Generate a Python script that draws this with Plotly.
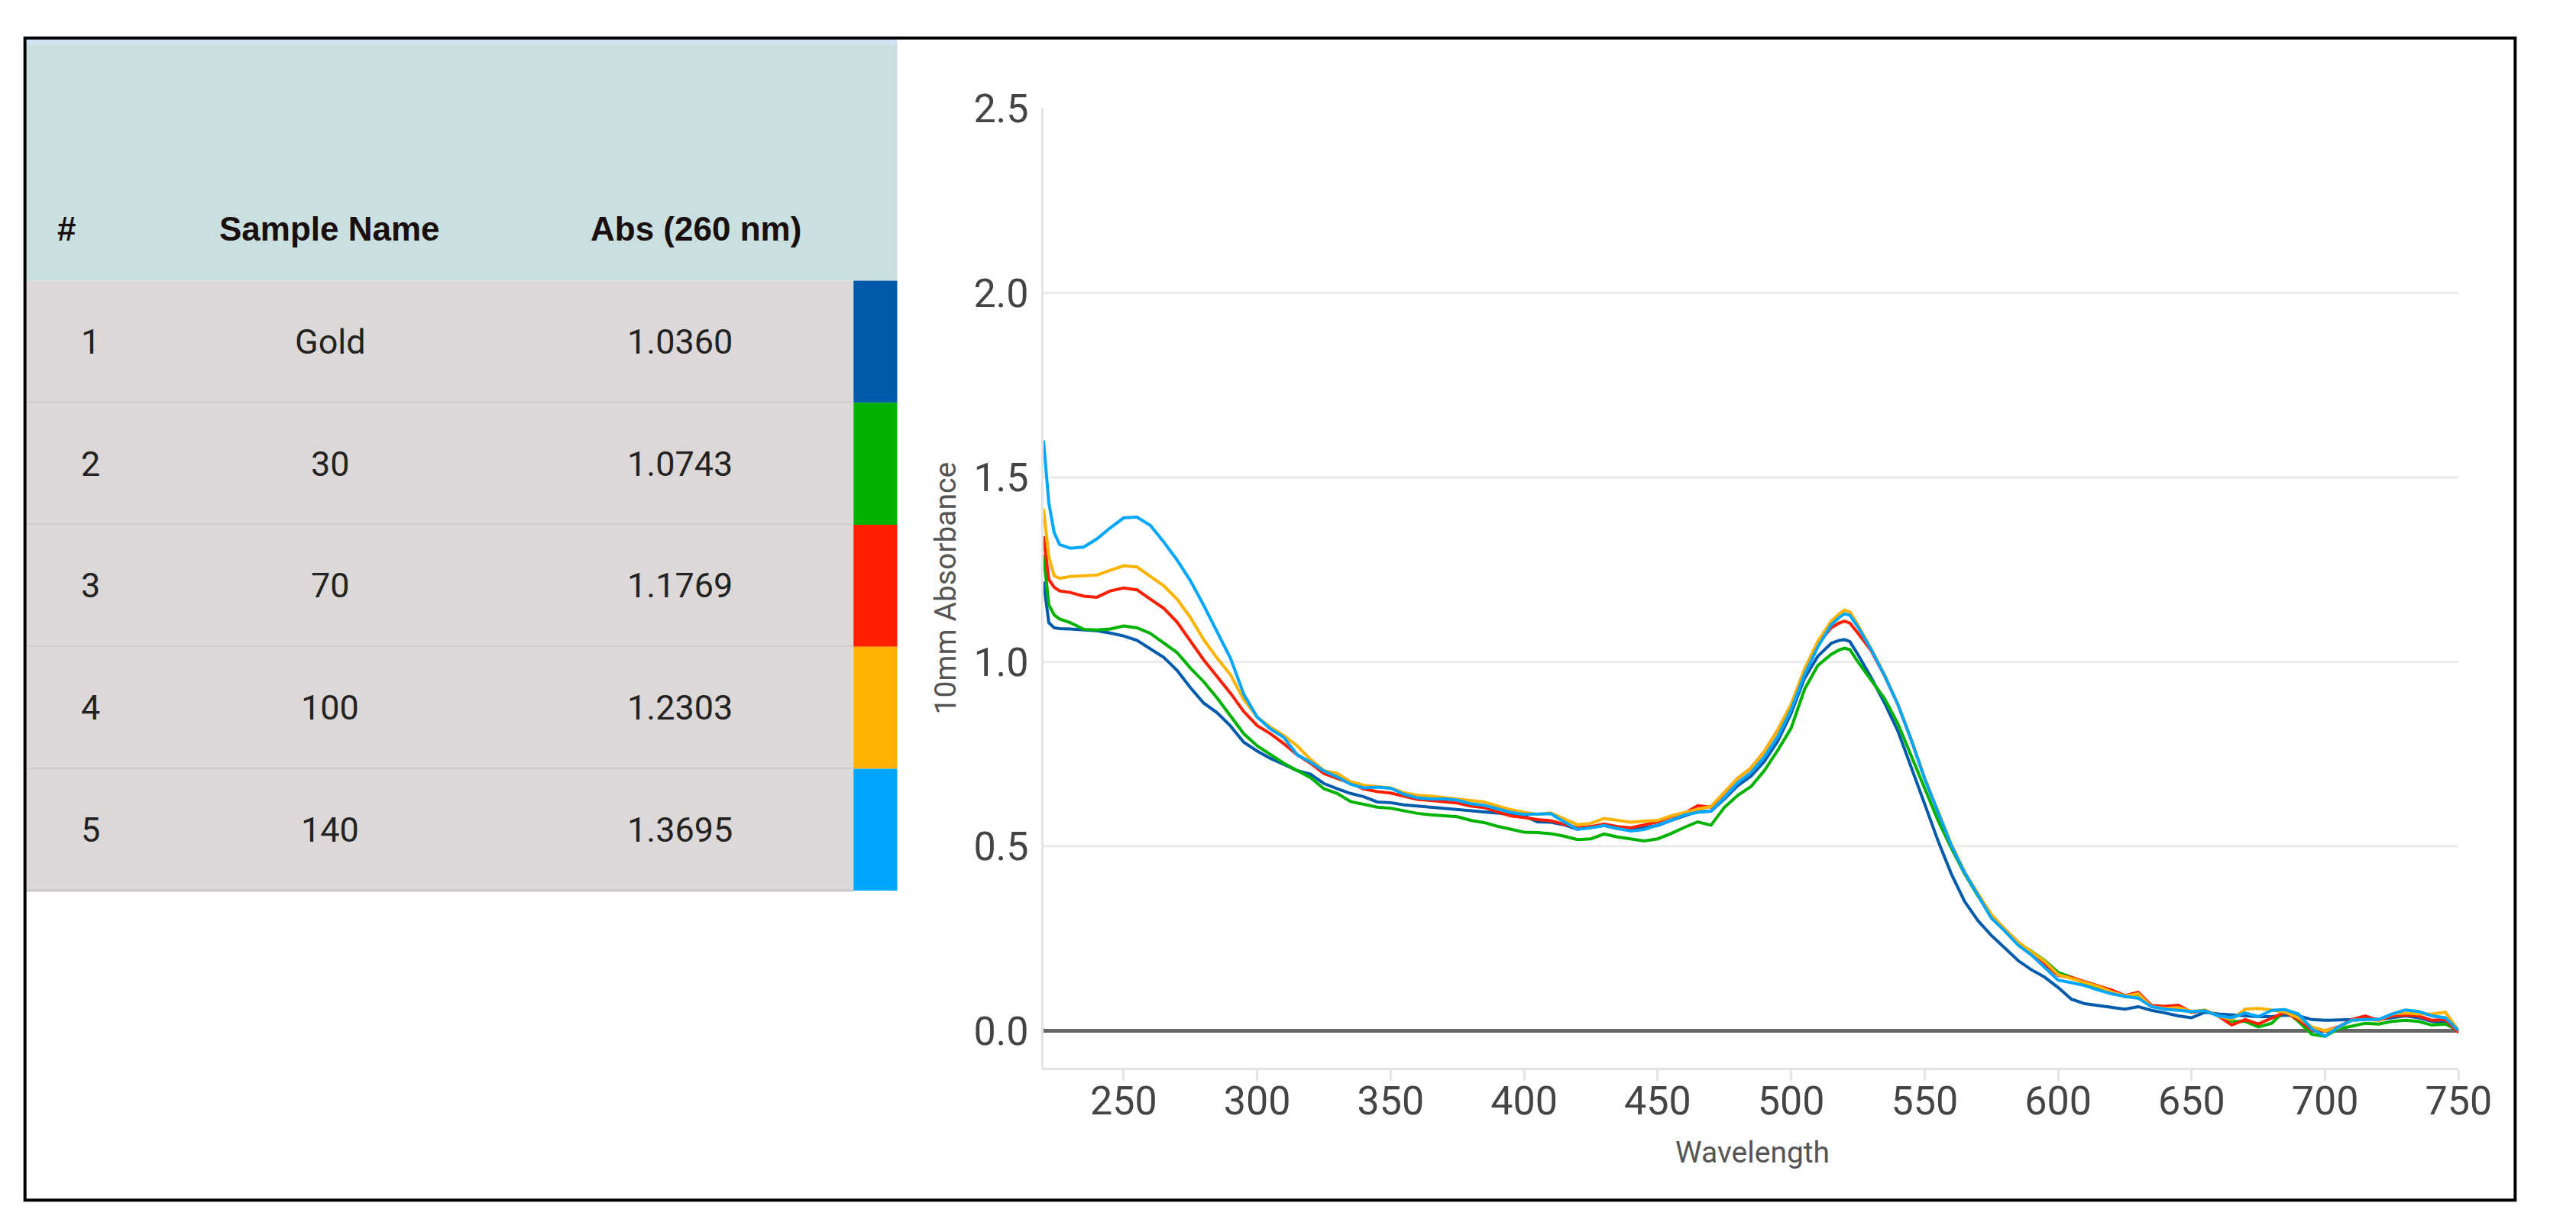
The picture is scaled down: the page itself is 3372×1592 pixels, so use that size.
import plotly.graph_objects as go

# ---------------- data ----------------
wavelength = [220, 222, 224, 226,
              230, 235, 240, 245, 250, 255, 260, 265, 270, 275,
              280, 285, 290, 295, 300, 305, 310, 315, 320, 325,
              330, 335, 340, 345, 350, 355, 360, 365, 370, 375,
              380, 385, 390, 395, 400, 405, 410, 415, 420, 425,
              430, 435, 440, 445, 450, 455, 460, 465, 470, 475,
              480, 485, 490, 495, 500, 505, 510, 515,
              518, 520, 522,
              525, 530, 535, 540, 545, 550, 555, 560, 565, 570,
              575, 580, 585, 590, 595, 600, 605, 610, 615, 620,
              625, 630, 635, 640, 645, 650, 655, 660, 665, 670,
              675, 680, 685, 690, 695, 700, 705, 710, 715, 720,
              725, 730, 735, 740, 745, 750]

abs_gold = [1.217, 1.106, 1.092, 1.090,
            1.089, 1.087, 1.084, 1.078, 1.070, 1.058, 1.036, 1.012, 0.977, 0.930,
            0.888, 0.862, 0.826, 0.782, 0.758, 0.738, 0.722, 0.705, 0.695, 0.670,
            0.656, 0.643, 0.634, 0.620, 0.618, 0.612, 0.609, 0.606, 0.602, 0.598,
            0.595, 0.592, 0.590, 0.585, 0.582, 0.566, 0.565, 0.558, 0.546, 0.553,
            0.556, 0.548, 0.545, 0.550, 0.556, 0.570, 0.582, 0.594, 0.595, 0.628,
            0.664, 0.690, 0.730, 0.785, 0.860, 0.955, 1.015, 1.050,
            1.058, 1.060, 1.055,
            1.020, 0.957, 0.888, 0.812, 0.715, 0.615, 0.515, 0.425, 0.350, 0.298,
            0.258, 0.225, 0.190, 0.165, 0.145, 0.117, 0.085, 0.073, 0.068, 0.063,
            0.058, 0.065, 0.055, 0.048, 0.040, 0.035, 0.050, 0.045, 0.042, 0.040,
            0.038, 0.038, 0.042, 0.040, 0.030, 0.028, 0.028, 0.030, 0.035, 0.030,
            0.035, 0.040, 0.035, 0.025, 0.022, 0.000]

abs_30 = [1.291, 1.154, 1.127, 1.116,
          1.106, 1.088, 1.086, 1.089, 1.097, 1.092, 1.077, 1.052, 1.025, 0.983,
          0.946, 0.902, 0.852, 0.805, 0.772, 0.748, 0.725, 0.705, 0.686, 0.656,
          0.643, 0.621, 0.613, 0.606, 0.603, 0.595, 0.589, 0.585, 0.582, 0.580,
          0.570, 0.564, 0.554, 0.545, 0.538, 0.537, 0.534, 0.527, 0.518, 0.520,
          0.533, 0.525, 0.520, 0.514, 0.520, 0.534, 0.551, 0.566, 0.557, 0.605,
          0.638, 0.662, 0.705, 0.760, 0.820, 0.925, 0.990, 1.020,
          1.032, 1.037, 1.033,
          1.000, 0.950, 0.900, 0.832, 0.745, 0.655, 0.570, 0.495, 0.425, 0.365,
          0.312, 0.275, 0.238, 0.215, 0.190, 0.158, 0.145, 0.128, 0.115, 0.108,
          0.092, 0.098, 0.065, 0.062, 0.060, 0.050, 0.055, 0.040, 0.025, 0.025,
          0.010, 0.020, 0.055, 0.025, -0.010, -0.015, 0.005, 0.012, 0.020, 0.018,
          0.025, 0.028, 0.025, 0.015, 0.018, 0.000]

abs_70 = [1.340, 1.223, 1.202, 1.192,
          1.188, 1.178, 1.175, 1.192, 1.200, 1.195, 1.170, 1.145, 1.108, 1.055,
          1.005, 0.960, 0.915, 0.865, 0.827, 0.805, 0.778, 0.748, 0.725, 0.697,
          0.685, 0.671, 0.655, 0.648, 0.644, 0.635, 0.627, 0.624, 0.621, 0.617,
          0.609, 0.605, 0.593, 0.582, 0.578, 0.572, 0.569, 0.560, 0.550, 0.553,
          0.560, 0.553, 0.550, 0.558, 0.566, 0.580, 0.589, 0.610, 0.606, 0.645,
          0.684, 0.712, 0.757, 0.815, 0.882, 0.975, 1.048, 1.092,
          1.105, 1.110, 1.105,
          1.078, 1.030, 0.962, 0.884, 0.788, 0.684, 0.593, 0.503, 0.428, 0.368,
          0.312, 0.275, 0.240, 0.210, 0.180, 0.150, 0.144, 0.133, 0.120, 0.110,
          0.095, 0.104, 0.068, 0.066, 0.069, 0.050, 0.055, 0.040, 0.015, 0.030,
          0.018, 0.035, 0.050, 0.030, 0.002, 0.000, 0.010, 0.030, 0.040, 0.028,
          0.040, 0.042, 0.040, 0.028, 0.030, -0.005]

abs_100 = [1.414, 1.284, 1.233, 1.226,
           1.231, 1.233, 1.235, 1.248, 1.260, 1.257, 1.232, 1.206, 1.170, 1.120,
           1.060, 1.010, 0.965, 0.898, 0.850, 0.823, 0.800, 0.772, 0.735, 0.705,
           0.697, 0.675, 0.665, 0.662, 0.658, 0.645, 0.638, 0.636, 0.632, 0.630,
           0.626, 0.620, 0.609, 0.599, 0.592, 0.586, 0.590, 0.575, 0.558, 0.562,
           0.575, 0.570, 0.565, 0.568, 0.570, 0.582, 0.592, 0.600, 0.608, 0.645,
           0.684, 0.712, 0.757, 0.815, 0.885, 0.980, 1.055, 1.110,
           1.130, 1.140, 1.135,
           1.100, 1.035, 0.965, 0.885, 0.790, 0.685, 0.595, 0.505, 0.430, 0.370,
           0.315, 0.275, 0.240, 0.215, 0.188, 0.152, 0.142, 0.130, 0.120, 0.105,
           0.094, 0.100, 0.065, 0.060, 0.062, 0.052, 0.056, 0.040, 0.030, 0.058,
           0.060, 0.056, 0.050, 0.035, 0.010, 0.000, 0.008, 0.028, 0.030, 0.028,
           0.045, 0.048, 0.045, 0.045, 0.050, 0.000]

abs_140 = [1.600, 1.430, 1.350, 1.318,
           1.308, 1.311, 1.333, 1.363, 1.390, 1.392, 1.370, 1.325, 1.276, 1.220,
           1.153, 1.082, 1.010, 0.912, 0.850, 0.818, 0.795, 0.748, 0.728, 0.704,
           0.688, 0.668, 0.658, 0.660, 0.657, 0.641, 0.631, 0.628, 0.628, 0.625,
           0.615, 0.611, 0.602, 0.592, 0.586, 0.586, 0.588, 0.566, 0.546, 0.550,
           0.556, 0.548, 0.541, 0.545, 0.557, 0.570, 0.585, 0.592, 0.595, 0.632,
           0.672, 0.700, 0.742, 0.797, 0.870, 0.965, 1.040, 1.100,
           1.120, 1.130, 1.126,
           1.095, 1.033, 0.963, 0.884, 0.788, 0.683, 0.592, 0.502, 0.428, 0.365,
           0.305, 0.270, 0.232, 0.205, 0.172, 0.137, 0.130, 0.122, 0.110, 0.100,
           0.093, 0.088, 0.065, 0.058, 0.055, 0.052, 0.054, 0.040, 0.035, 0.048,
           0.038, 0.055, 0.057, 0.045, 0.005, -0.015, 0.010, 0.028, 0.030, 0.030,
           0.045, 0.056, 0.052, 0.040, 0.035, 0.000]

row_numbers = ["1", "2", "3", "4", "5"]
sample_names = ["Gold", "30", "70", "100", "140"]
abs_260 = ["1.0360", "1.0743", "1.1769", "1.2303", "1.3695"]
series_colors = ["#005bac", "#00b300", "#ff1e00", "#ffb300", "#00a6ff"]
series_values = [abs_gold, abs_30, abs_70, abs_100, abs_140]
header_labels = ["#", "Sample Name", "Abs (260 nm)"]

x_ticks = [250, 300, 350, 400, 450, 500, 550, 600, 650, 700, 750]
y_ticks = [0.0, 0.5, 1.0, 1.5, 2.0, 2.5]
grid_levels = [0.5, 1.0, 1.5, 2.0]

# ---------------- layout helpers ----------------
# the page keeps its default 8px body margin, so the figure is the window minus it
PAGE_W, PAGE_H, BODY_M = 3372, 1592, 8
W, H = PAGE_W - 2 * BODY_M, PAGE_H - 2 * BODY_M


def px(x):
    return (x - BODY_M) / W


def py(y):
    return 1 - (y - BODY_M) / H


fig = go.Figure()
for name, vals, col in zip(sample_names, series_values, series_colors):
    fig.add_trace(go.Scatter(x=wavelength, y=vals, mode="lines", name=name,
                             line=dict(color=col, width=4),
                             showlegend=False, hoverinfo="skip"))

shapes = []
for g in grid_levels:
    shapes.append(dict(type="line", xref="x", yref="y", x0=220, x1=750, y0=g, y1=g,
                       line=dict(color="#ebebeb", width=3), layer="below"))

t_left, t_right, sw_left = 35, 1190, 1132
strip_top, head_top, head_bot = 20, 28, 344
row_h = 162.8
shapes.append(dict(type="rect", xref="paper", yref="paper", x0=px(t_left), x1=px(t_right),
                   y0=py(head_top), y1=py(strip_top), fillcolor="#d2e4f4", line=dict(width=0),
                   layer="below"))
shapes.append(dict(type="rect", xref="paper", yref="paper", x0=px(t_left), x1=px(t_right),
                   y0=py(head_bot), y1=py(head_top), fillcolor="#cadfdf", line=dict(width=0),
                   layer="below"))
for i, col in enumerate(series_colors):
    top = head_bot + i * row_h
    bot = top + row_h
    shapes.append(dict(type="rect", xref="paper", yref="paper", x0=px(t_left), x1=px(sw_left),
                       y0=py(bot), y1=py(top), fillcolor="#ddd8d8", line=dict(width=0),
                       layer="below"))
    shapes.append(dict(type="rect", xref="paper", yref="paper", x0=px(sw_left), x1=px(t_right),
                       y0=py(bot), y1=py(top), fillcolor=col, line=dict(width=0),
                       layer="below"))
    shapes.append(dict(type="line", xref="paper", yref="paper", x0=px(t_left), x1=px(sw_left),
                       y0=py(bot), y1=py(bot), line=dict(color="#c9c8cc", width=3),
                       layer="below"))
shapes.append(dict(type="rect", xref="paper", yref="paper", x0=px(33), x1=px(3336),
                   y0=py(1571), y1=py(20), line=dict(color="#000000", width=4),
                   fillcolor="rgba(0,0,0,0)"))

annotations = []
head_x = [88, 437, 923]
for lab, hx in zip(header_labels, head_x):
    annotations.append(dict(xref="paper", yref="paper", x=px(hx), y=py(275), text="<b>%s</b>" % lab,
                            showarrow=False, xanchor="center", yanchor="middle",
                            font=dict(family="Liberation Sans", size=44, color="#1a0f0f")))
col_x = [120, 438, 902]
for i in range(len(row_numbers)):
    cy = head_bot + (i + 0.5) * row_h
    for txt, cx in zip([row_numbers[i], sample_names[i], abs_260[i]], col_x):
        annotations.append(dict(xref="paper", yref="paper", x=px(cx), y=py(cy), text=txt,
                                showarrow=False, xanchor="center", yanchor="middle",
                                font=dict(family="Roboto", size=45, color="#222222")))
annotations.append(dict(xref="paper", yref="paper", x=px(1254), y=py(754),
                        text="10mm Absorbance", textangle=-90, showarrow=False,
                        xanchor="center", yanchor="middle",
                        font=dict(family="Roboto", size=39, color="#555555")))
annotations.append(dict(xref="paper", yref="paper", x=px(2324), y=py(1508),
                        text="Wavelength", showarrow=False,
                        xanchor="center", yanchor="middle",
                        font=dict(family="Roboto", size=39, color="#555555")))

fig.update_layout(
    width=W, height=H,
    margin=dict(l=0, r=0, t=0, b=0),
    paper_bgcolor="white", plot_bgcolor="white",
    font=dict(family="Roboto", color="#444444"),
    shapes=shapes, annotations=annotations,
    xaxis=dict(domain=[px(1384), px(3261)], range=[220, 750], tickvals=x_ticks,
               showgrid=False, zeroline=False, showline=True, linecolor="#e4e4e4",
               linewidth=3, ticks="outside", ticklen=14, tickwidth=3, tickcolor="#e4e4e4",
               tickfont=dict(family="Roboto", size=52, color="#444444"),
               ticklabelstandoff=-18),
    yaxis=dict(domain=[py(1394), py(114)], range=[-0.1, 2.5], tickvals=y_ticks,
               tickformat=".1f", showgrid=False, zeroline=True, zerolinecolor="#666666",
               zerolinewidth=5, showline=True, linecolor="#e4e4e4", linewidth=3,
               ticks="", tickfont=dict(family="Roboto", size=52, color="#444444"),
               ticklabelstandoff=6),
)

fig.write_html("out.html", config={"displayModeBar": False})
